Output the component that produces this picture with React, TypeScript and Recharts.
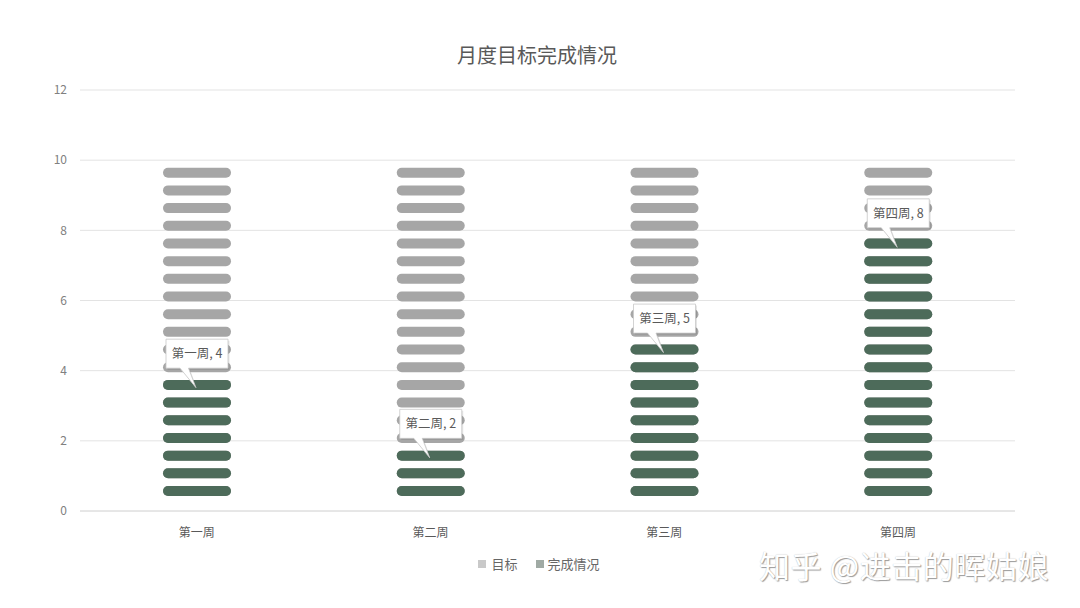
import React from 'react';
import { BarChart, Bar, XAxis, YAxis, CartesianGrid, Legend, LabelList } from 'recharts';

const weeks = ['第一周', '第二周', '第三周', '第四周'];
const targets = [10, 10, 10, 10];
const completed = [4, 2, 5, 8];
const yTicks = [0, 2, 4, 6, 8, 10, 12];
const seriesNames = ['目标', '完成情况'];

const data = weeks.map((w, i) => ({
  week: w,
  target: targets[i],
  done: completed[i],
  label: `${w}, ${completed[i]}`,
}));

const FONT = '"Noto Sans CJK SC", "Noto Sans", sans-serif';
const GRAY = '#a6a6a6';
const GREEN = '#4d6b5a';

const makePill = (key: string, color: string) => (props: any) => {
  const { x, y, width, height, payload } = props;
  const v = payload[key];
  if (!v || !height) return <g />;
  const ppu = height / v;
  const base = y + height;
  const pitch = 0.504 * ppu;
  const first = 0.57 * ppu;
  const ph = 10;
  const pills = [];
  for (let k = 0; k < 100; k++) {
    const c = base - first - pitch * k;
    if (c - ph / 2 < y - 0.5) break;
    pills.push(
      <rect key={k} x={x} y={c - ph / 2} width={width} height={ph} rx={ph / 2} ry={ph / 2} fill={color} />
    );
  }
  return <g>{pills}</g>;
};

const Callout = (props: any) => {
  const { x, y, width, value } = props;
  const cx = x + width / 2;
  const bw = 62;
  const bh = 29;
  const bottom = y - 2.5;
  const top = bottom - bh;
  const left = cx - bw / 2;
  const right = cx + bw / 2;
  const tipY = y + 17;
  const d = `M${left},${top} H${right} V${bottom} H${cx - 8.5} L${cx - 1},${tipY} L${cx - 17},${bottom} H${left} Z`;
  return (
    <g>
      <path d={d} transform="translate(1.5,1.5)" fill="rgba(0,0,0,0.10)" />
      <path d={d} fill="#ffffff" stroke="#c8c8c8" strokeWidth={0.8} />
      <text x={cx} y={(top + bottom) / 2 + 1} textAnchor="middle" dominantBaseline="middle" fontSize={12.5} fill="#595959" fontFamily={FONT}>
        {value}
      </text>
    </g>
  );
};

const LegendContent = () => (
  <div style={{ display: 'flex', justifyContent: 'center', alignItems: 'center', fontFamily: FONT, fontSize: 13, color: '#666', paddingRight: 2 }}>
    <span style={{ display: 'inline-block', width: 8, height: 8, background: '#c9c9c9', marginRight: 5 }} />
    <span style={{ marginRight: 18 }}>{seriesNames[0]}</span>
    <span style={{ display: 'inline-block', width: 8, height: 8, background: '#a0aaa4', marginRight: 4 }} />
    <span>{seriesNames[1]}</span>
  </div>
);

export default function App() {
  return (
    <div style={{ position: 'absolute', left: 0, top: 0, width: 1080, height: 608, background: '#fff' }}>
      <div style={{ position: 'absolute', left: 0, top: 44, width: 1074, textAlign: 'center', fontFamily: FONT, fontSize: 20, lineHeight: '22px', color: '#595959' }}>
        月度目标完成情况
      </div>
      <BarChart width={1080} height={608} data={data} margin={{ top: 90, right: 65, bottom: 67, left: 50 }} barGap={-68} barSize={68}>
        <CartesianGrid vertical={false} stroke="#e3e3e3" />
        <XAxis dataKey="week" height={30} axisLine={{ stroke: '#dcdcdc' }} tickLine={false} tickSize={0} tickMargin={17}
          tick={{ fontSize: 12, fill: '#595959', fontFamily: FONT }} />
        <YAxis width={30} domain={[0, 12]} ticks={yTicks} axisLine={false} tickLine={false} tickSize={0} tickMargin={13}
          tick={{ fontSize: 12, fill: '#808080', fontFamily: FONT }} />
        <Legend verticalAlign="middle" align="center" content={<LegendContent />}
          wrapperStyle={{ top: 554, left: 0, width: 1080 }} />
        <Bar dataKey="target" name={seriesNames[0]} fill={GRAY} isAnimationActive={false} shape={makePill('target', GRAY)} />
        <Bar dataKey="done" name={seriesNames[1]} fill={GREEN} isAnimationActive={false} shape={makePill('done', GREEN)}>
          <LabelList dataKey="label" content={<Callout />} />
        </Bar>
      </BarChart>
      <div style={{ position: 'absolute', left: 759, top: 544, fontFamily: FONT, fontSize: 31, lineHeight: '42px', color: '#ffffff', textShadow: '1px 1px 1px #9a9a9a, 0 0 1px #bbbbbb', letterSpacing: 0.6 }}>
        知乎 @进击的晖姑娘
      </div>
    </div>
  );
}
